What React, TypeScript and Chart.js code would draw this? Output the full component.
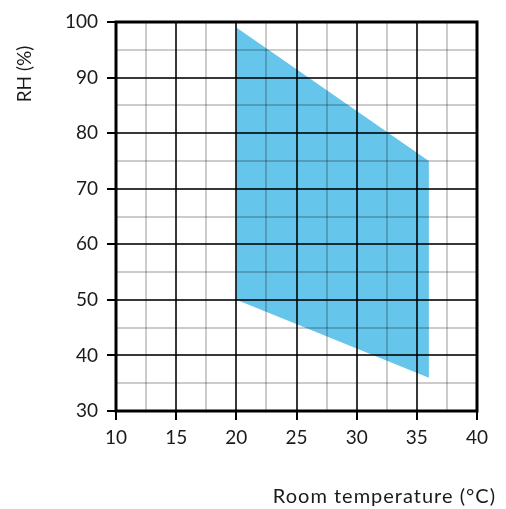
import React, { useRef, useEffect } from 'react';
import { Chart, registerables, Plugin } from 'chart.js';

Chart.register(...registerables);

// Область допустимой работы: температура (°C) и влажность (%)
const zoneTemps = [20, 20, 36, 36];
const zoneRH = [50, 99, 75, 36];

const xRange = [10, 40];
const yRange = [30, 100];
const xTicks = [10, 15, 20, 25, 30, 35, 40];
const yTicks = [30, 40, 50, 60, 70, 80, 90, 100];

const xTitle = 'Room temperature (°C)';
const yTitle = 'RH (%)';

const FONT = 'Lato, "Open Sans", sans-serif';

// Рамка вокруг области графика и подписи осей
const framePlugin: Plugin = {
  id: 'frame',
  afterDraw(chart) {
    const { ctx, chartArea } = chart;
    ctx.save();
    ctx.strokeStyle = '#000';
    ctx.lineWidth = 3;
    ctx.strokeRect(chartArea.left, chartArea.top, chartArea.right - chartArea.left, chartArea.bottom - chartArea.top);

    ctx.fillStyle = '#1a1a1a';
    ctx.font = `20px ${FONT}`;
    (ctx as any).letterSpacing = '1px';
    ctx.textAlign = 'right';
    ctx.textBaseline = 'middle';
    ctx.fillText(xTitle, 496, 497);

    (ctx as any).letterSpacing = '0px';
    ctx.font = `19px ${FONT}`;
    ctx.translate(25, 74);
    ctx.rotate(-Math.PI / 2);
    ctx.textAlign = 'center';
    ctx.fillText(yTitle, 0, 0);
    ctx.restore();
  }
};

const isMajor = (v: number, step: number) => Math.abs(v / step - Math.round(v / step)) < 1e-6;

const App: React.FC = () => {
  const chartRef = useRef<HTMLCanvasElement>(null);
  const chartInstance = useRef<Chart | null>(null);

  useEffect(() => {
    if (!chartRef.current) return;
    if (chartInstance.current) {
      chartInstance.current.destroy();
    }

    const points = zoneTemps.map((t, i) => ({ x: t, y: zoneRH[i] }));

    chartInstance.current = new Chart(chartRef.current, {
      type: 'scatter',
      data: {
        datasets: [
          {
            data: points,
            showLine: true,
            fill: 'shape',
            backgroundColor: '#66C5EA',
            borderWidth: 0,
            borderColor: 'transparent',
            pointRadius: 0,
            tension: 0
          }
        ]
      },
      options: {
        responsive: true,
        maintainAspectRatio: false,
        animation: false,
        layout: { padding: { left: 0, top: 22, right: 29, bottom: 0 } },
        plugins: {
          legend: { display: false },
          tooltip: { enabled: false }
        },
        scales: {
          x: {
            type: 'linear',
            min: xRange[0],
            max: xRange[1],
            afterFit: (scale) => { scale.height = 98; },
            afterBuildTicks: (scale) => {
              const ticks = [];
              for (let v = xRange[0]; v <= xRange[1] + 1e-6; v += 2.5) ticks.push({ value: v });
              scale.ticks = ticks;
            },
            grid: {
              z: 1,
              lineWidth: 2,
              tickLength: 9,
              color: (c) => (isMajor(c.tick.value, 5) ? 'rgba(0,0,0,0.78)' : 'rgba(0,0,0,0.2)'),
              tickColor: (c) => (isMajor(c.tick.value, 5) ? '#000' : 'transparent')
            },
            border: { display: false },
            ticks: {
              color: '#1a1a1a',
              padding: 6,
              maxRotation: 0,
              autoSkip: false,
              font: { family: FONT, size: 19 },
              callback: (v) => (xTicks.includes(Number(v)) ? String(v) : '')
            }
          },
          y: {
            type: 'linear',
            min: yRange[0],
            max: yRange[1],
            afterFit: (scale) => { scale.width = 116; },
            afterBuildTicks: (scale) => {
              const ticks = [];
              for (let v = yRange[0]; v <= yRange[1] + 1e-6; v += 5) ticks.push({ value: v });
              scale.ticks = ticks;
            },
            grid: {
              z: 1,
              lineWidth: 2,
              tickLength: 9,
              color: (c) => (isMajor(c.tick.value, 10) ? 'rgba(0,0,0,0.78)' : 'rgba(0,0,0,0.2)'),
              tickColor: (c) => (isMajor(c.tick.value, 10) ? '#000' : 'transparent')
            },
            border: { display: false },
            ticks: {
              color: '#1a1a1a',
              padding: 9,
              autoSkip: false,
              font: { family: FONT, size: 19 },
              callback: (v) => (yTicks.includes(Number(v)) ? String(v) : '')
            }
          }
        }
      },
      plugins: [framePlugin]
    });

    return () => {
      if (chartInstance.current) {
        chartInstance.current.destroy();
        chartInstance.current = null;
      }
    };
  }, []);

  return (
    <div style={{ position: 'fixed', left: 0, top: 0, width: '506px', height: '509px', background: '#fff' }}>
      <canvas ref={chartRef} />
    </div>
  );
};

export default App;
